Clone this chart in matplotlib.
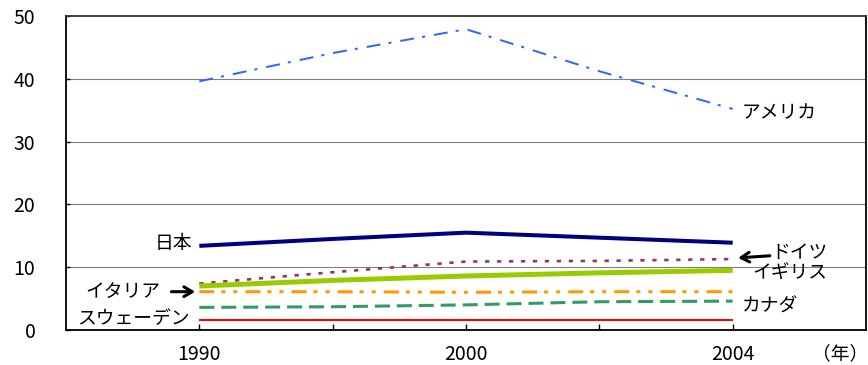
import matplotlib
matplotlib.use("Agg")
import matplotlib.pyplot as plt

plt.rcParams['font.family'] = ['Noto Sans CJK JP', 'DejaVu Sans']
plt.rcParams['lines.scale_dashes'] = False

# ---- data ----
years = ['1990', '1995', '2000', '2002', '2004']
tick_labels = ['1990', '', '2000', '', '2004']
usa = [39.6, 44.1, 47.9, 41.2, 35.2]
japan = [13.4, 14.5, 15.5, 14.7, 13.9]
germany = [7.4, 9.2, 10.9, 11.0, 11.3]
uk = [7.0, 7.9, 8.6, 9.1, 9.5]
italy = [6.1, 6.1, 6.0, 6.1, 6.1]
canada = [3.6, 3.7, 4.0, 4.5, 4.6]
sweden = [1.6, 1.6, 1.6, 1.6, 1.6]
yticks = [0, 10, 20, 30, 40, 50]

fig = plt.figure(figsize=(8.68, 3.65), dpi=100)
ax = fig.add_axes([66 / 868, 1 - 330 / 365, (866 - 66) / 868, (330 - 16) / 365])

x = list(range(len(years)))

ax.plot(x, usa, color='#3366FF', lw=1.45, dashes=(10.1, 5.8, 2.2, 6.5), zorder=3)
ax.plot(x, japan, color='#000080', lw=2.9, solid_capstyle='butt', zorder=3)
ax.plot(x, germany, color='#993366', lw=1.9, dashes=(3.1, 5.5), zorder=3)
ax.plot(x, uk, color='#99CC00', lw=3.6, solid_capstyle='butt', zorder=3)
ax.plot(x, italy, color='#FF9900', lw=2.2, dashes=(10.8, 5.0, 2.9, 5.8, 2.9, 5.8), zorder=3)
ax.plot(x, canada, color='#339966', lw=2.2, dashes=(10.8, 5.0), zorder=3)
ax.plot(x, sweden, color='#FF0000', lw=1.45, solid_capstyle='butt', zorder=3)

ax.set_xlim(-1, 5)
ax.set_ylim(0, 50)
ax.set_yticks(yticks)
ax.set_yticklabels([str(v) for v in yticks], fontsize=14)
ax.set_xticks(x)
ax.set_xticklabels(tick_labels, fontsize=14)
ax.tick_params(axis='y', direction='in', length=3, width=1, pad=22)
ax.tick_params(axis='x', direction='in', length=4, width=1, pad=10)

for g in yticks[1:-1]:
    ax.axhline(g, color='#808080', lw=0.8, zorder=1)

for s in ax.spines.values():
    s.set_color('black')
    s.set_linewidth(1.3)
ax.spines['top'].set_color('#333333')

fs = 13.5
arrow = dict(arrowstyle='->,head_length=0.6,head_width=0.35', lw=2.2, color='black')
ax.text(4.07, 34.6, 'アメリカ', fontsize=fs, ha='left', va='center')
ax.text(-0.05, 13.7, '日本', fontsize=fs, ha='right', va='center')
ax.text(4.29, 12.3, 'ドイツ', fontsize=fs, ha='left', va='center')
ax.annotate('', xy=(4.02, 11.45), xytext=(4.30, 11.85), arrowprops=arrow)
ax.text(4.15, 9.1, 'イギリス', fontsize=fs, ha='left', va='center')
ax.text(4.07, 3.8, 'カナダ', fontsize=fs, ha='left', va='center')
ax.text(-0.29, 6.1, 'イタリア', fontsize=fs, ha='right', va='center')
ax.annotate('', xy=(-0.01, 6.1), xytext=(-0.23, 6.1), arrowprops=arrow)
ax.text(-0.07, 1.75, 'スウェーデン', fontsize=fs, ha='right', va='center')

fig.text(840 / 868, 1 - 354 / 365, '（年）', fontsize=fs, ha='center', va='center')

fig.savefig('out.png', dpi=100)
